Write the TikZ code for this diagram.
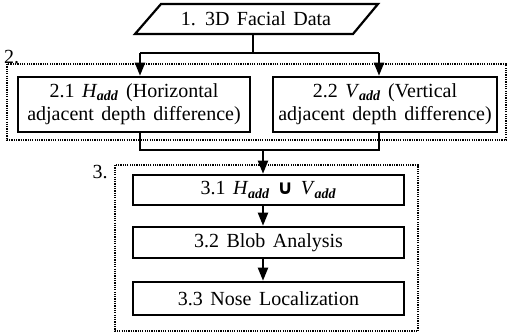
\documentclass[tikz,border=0pt]{standalone}
\usepackage{fontspec}
\setmainfont{Liberation Serif}[WordSpace=1.5]
\newfontfamily\symbolfont{DejaVu Sans}
\usetikzlibrary{arrows.meta}
\newcommand\fs{\fontsize{20}{23}\selectfont}
\newcommand\addsub[1]{\textsubscript{\kern-0.5pt\textit{\textbf{#1}}}}
\newcommand\unionsign{{\symbolfont\bfseries ∪}}
\begin{document}
\begin{tikzpicture}[x=1pt,y=-1pt,
  box/.style={draw, line width=2.6pt, rectangle, inner sep=0pt, align=center, font=\fs},
  group/.style={draw, line width=1.6pt, dash pattern=on 1.2pt off 1.1pt},
  grouplabel/.style={font=\fs, inner sep=0pt},
  link/.style={line width=2pt},
  flow/.style={link, -{Triangle[length=13pt,width=10pt]}},
]
\useasboundingbox (0,0) rectangle (508,332);

% input data (parallelogram)
\coordinate (pTL) at (161,4);
\coordinate (pTR) at (378,4);
\coordinate (pBR) at (353,34);
\coordinate (pBL) at (135,34);
\draw[line width=2.2pt, line join=miter] (pTL) -- (pTR) -- (pBR) -- (pBL) -- cycle;
\node[font=\fs, inner sep=0pt] (data) at (256,19) {1. 3D Facial Data};

% stage 2: adjacent depth differences
\draw[group] (7,64) rectangle (506,140);
\node[grouplabel, anchor=south west] (g2) at (4,64) {2.};
\node[box, minimum width=232pt, minimum height=55pt] (h) at (134,104.5)
  {2.1 \textit{H}\addsub{add} (Horizontal\\adjacent depth difference)};
\node[box, minimum width=224pt, minimum height=55pt] (v) at (385,104.5)
  {2.2 \textit{V}\addsub{add} (Vertical\\adjacent depth difference)};

\coordinate (dout) at (253,34);
\coordinate (split) at (253,53);
\coordinate (hin) at (140,53);
\coordinate (vin) at (379,53);
\draw[link] (dout) -- (split);
\draw[link] (hin) -- (vin);
\draw[flow] (hin) -- (hin |- h.north);
\draw[flow] (vin) -- (vin |- v.north);

% merge of both difference maps
\coordinate (mh) at (140,150);
\coordinate (mv) at (379,150);
\coordinate (m) at (263,150);
\draw[link] (h.south -| mh) -- (mh) -- (mv) -- (v.south -| mv);

% stage 3: nose localization
\draw[group] (115,165) rectangle (418,331);
\node[grouplabel] (g3) at (100,172) {3.};
\node[box, minimum width=271pt, minimum height=30pt] (u) at (268.5,190)
  {3.1 \textit{H}\addsub{add} \unionsign{} \textit{V}\addsub{add}};
\node[box, minimum width=271pt, minimum height=31pt] (b) at (268.5,242.5)
  {3.2 Blob Analysis};
\node[box, minimum width=271pt, minimum height=33pt] (n) at (268.5,298.5)
  {3.3 Nose Localization};

\draw[flow] (m) -- (m |- u.north);
\draw[flow] (u.south -| m) -- (b.north -| m);
\draw[flow] (b.south -| m) -- (n.north -| m);
\end{tikzpicture}
\end{document}
